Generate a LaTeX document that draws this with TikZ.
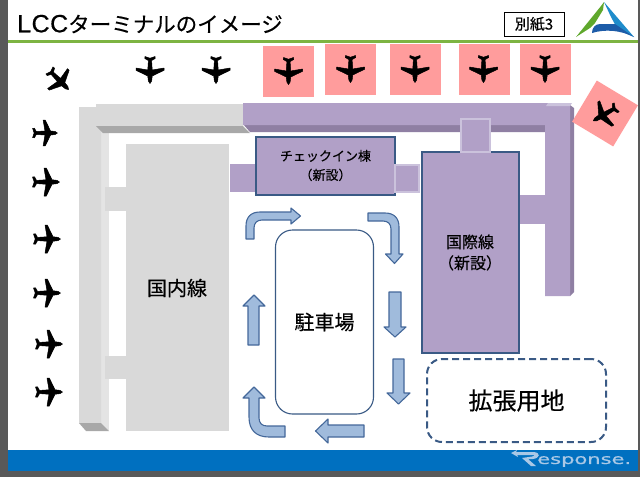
\documentclass[tikz,border=0pt]{standalone}
\usepackage{fontspec}
\setmainfont[FakeBold=.35]{Noto Sans CJK JP}
\newfontfamily\latinf[FakeBold=.5]{Liberation Sans}
\newfontfamily\wmf[FakeBold=.6]{DejaVu Sans}
\definecolor{purp}{HTML}{B1A0C7}
\definecolor{purpdark}{HTML}{8F7FA3}
\definecolor{purplight}{HTML}{CBC2DC}
\definecolor{edgeblue}{HTML}{3A5A85}
\definecolor{gr}{HTML}{D9D9D9}
\definecolor{grlight}{HTML}{E4E4E4}
\definecolor{grdark}{HTML}{A8A8A8}
\definecolor{pinkbox}{HTML}{FF9C9C}
\definecolor{arrowfill}{HTML}{A0BBDC}
\definecolor{arrowedge}{HTML}{44689A}
\definecolor{frame}{HTML}{595959}
\definecolor{bandblue}{HTML}{0070C0}
\definecolor{greenline}{HTML}{7DB442}
\definecolor{logogreen}{HTML}{5FA82C}
\definecolor{logoteal}{HTML}{1F8CCB}
\definecolor{logoblue}{HTML}{1D5CA8}
\definecolor{wmcol}{HTML}{A9C8E6}
\tikzset{
  x=1pt,y=-1pt,
  flowarrow/.style={fill=arrowfill,draw=arrowedge,line width=1.1pt,line join=round},
  labelbox/.style={draw=edgeblue,line width=2pt,fill=purp,inner sep=0pt,align=center,anchor=north west},
  pinksq/.style={fill=pinkbox,draw=none,minimum width=51pt,minimum height=51pt,inner sep=0pt},
  plane/.pic={
    \fill[black,line join=round,draw=black,line width=.5pt]
      (0,13.5) .. controls (1.6,12.5) and (2.1,10) .. (2.1,7)
      -- (2.2,6) -- (14,0.3) -- (14,-2) -- (2.2,0)
      -- (1.6,-9.5) -- (5.2,-11.5) -- (5,-13.5) -- (0,-11.8) -- (-5,-13.5) -- (-5.2,-11.5) -- (-1.6,-9.5)
      -- (-2.2,0) -- (-14,-2) -- (-14,0.3) -- (-2.2,6) -- (-2.1,7)
      .. controls (-2.1,10) and (-1.6,12.5) .. (0,13.5) -- cycle;
  }
}
\begin{document}
\begin{tikzpicture}
\useasboundingbox (0,0) rectangle (640,483);
\fill[white] (0,0) rectangle (640,483);
% frame
\fill[frame] (0,0) rectangle (7.5,477);
\fill[frame] (638,0) rectangle (640,477);
\fill[frame] (0,471) rectangle (640,477);
\fill[bandblue] (7.5,449.5) rectangle (638,471);
\fill[greenline] (7.5,40) rectangle (638,43.3);
% title
\node[anchor=west,inner sep=0pt,font=\fontsize{21.5}{24}\selectfont] (title) at (17,24) {{\latinf\fontsize{25}{24}\selectfont\addfontfeature{LetterSpace=2}LCC}ターミナルのイメージ};
\node[draw=black,line width=.8pt,minimum width=60pt,minimum height=24pt,inner sep=0pt,font=\fontsize{15}{16}\selectfont] (sheet) at (534,24) {別紙3};
% logo
\fill[logogreen] (576,37) -- (601,6) -- (604,2) -- (603,10) -- (595,23) -- (590,28) -- cycle;
\fill[logoteal] (604,2) -- (634,37) -- (618,30) -- (611,17) -- cycle;
\fill[logoblue] (592,33) .. controls (592,28) and (595,24) .. (600,24) -- (615,24) -- (634,37) .. controls (620,30) and (605,29) .. (592,33) -- cycle;
% gray structures
\fill[grlight] (101,126) rectangle (109,431);
\fill[gr] (79,107) -- (96,107) -- (96,104) -- (243,104) -- (243,126) -- (101,126) -- (101,423) -- (79,423) -- cycle;
\fill[grdark] (96,126) -- (243,126) -- (250,133) -- (103,133) -- cycle;
\fill[grdark] (79,423) -- (101,423) -- (109,431) -- (86,431) -- cycle;
\fill[gr] (105,187) rectangle (126,211);
\fill[gr] (105,356) rectangle (126,379);
\node[fill=gr,minimum width=103pt,minimum height=287pt,inner sep=0pt,anchor=north west] (domestic) at (126,144) {};
\node[font=\fontsize{20}{22}\selectfont,inner sep=0pt] (domlabel) at (177,288) {国内線};
% purple structures
\fill[purpdark] (243,124) -- (250,132) -- (545,132) -- (545,124) -- cycle;
\fill[purpdark] (570,105) -- (574,108) -- (574,292) -- (570,296) -- cycle;
\fill[purp] (243,103) -- (570,103) -- (570,296) -- (545,296) -- (545,125) -- (243,125) -- cycle;
\fill[purplight] (546,106) -- (548,103) -- (572,103) -- (570,106) -- cycle;
\fill[purp] (230,164) rectangle (256,192);
\fill[purp] (517,195) rectangle (545,224);
\node[labelbox,minimum width=139pt,minimum height=58pt,font=\fontsize{13}{19}\selectfont] (checkin) at (255,135.5) {チェックイン棟\\（新設）};
\node[labelbox,minimum width=97pt,minimum height=201pt] (intl) at (421,151) {};
\node[inner sep=0pt,align=center,font=\fontsize{16}{21}\selectfont] (intllabel) at (470,252.5) {国際線\\（新設）};
\node[fill=purp,draw=purplight,line width=2pt,minimum width=29pt,minimum height=33pt,inner sep=0pt] (linkA) at (475,135) {};
\node[fill=purp,draw=purplight,line width=2pt,minimum width=24pt,minimum height=27pt,inner sep=0pt] (linkB) at (407,178.5) {};
% parking and expansion
\node[draw=edgeblue,line width=1.1pt,rounded corners=17pt,minimum width=98pt,minimum height=184pt,inner sep=0pt,font=\fontsize{20}{22}\selectfont] (parking) at (324.5,322) {駐車場};
\node[draw=edgeblue,line width=2pt,dash pattern=on 7pt off 4pt,rounded corners=15pt,minimum width=179pt,minimum height=83pt,inner sep=0pt,font=\fontsize{24}{26}\selectfont] (expand) at (516.5,400.5) {拡張用地};
% flow arrows
\draw[flowarrow] (246,239) -- (246,226) .. controls (246,217) and (251,212) .. (260,212) -- (291,212) -- (291,208) -- (300.5,216) -- (291,224) -- (291,220) -- (262,220) .. controls (257,220) and (254,223) .. (254,228) -- (254,239) -- cycle;
\draw[flowarrow] (368,213) -- (385,213) .. controls (394,213) and (399,218) .. (399,227) -- (399,254) -- (403,254) -- (394.5,263.5) -- (385.5,254) -- (391,254) -- (391,229) .. controls (391,224) and (388,221) .. (383,221) -- (368,221) -- cycle;
\draw[flowarrow] (389,292) -- (401,292) -- (401,327) -- (406,327) -- (395,337) -- (384,327) -- (389,327) -- cycle;
\draw[flowarrow] (393,359) -- (404,359) -- (404,393) -- (410,393) -- (398.5,404) -- (387,393) -- (393,393) -- cycle;
\draw[flowarrow] (364,425) -- (364,437) -- (328,437) -- (328,443) -- (315.5,431) -- (328,419) -- (328,425) -- cycle;
\draw[flowarrow] (285,426) -- (267,426) .. controls (262,426) and (259,423) .. (259,418) -- (259,398) -- (265,398) -- (254,387) -- (243,398) -- (249,398) -- (249,417) .. controls (249,430) and (256,437) .. (269,437) -- (285,437) -- cycle;
\draw[flowarrow] (248,345) -- (259,345) -- (259,306) -- (265,306) -- (254,295) -- (243,306) -- (248,306) -- cycle;
% stands
\node[pinksq] (s1) at (288.5,71) {};
\node[pinksq] (s2) at (350.5,69) {};
\node[pinksq] (s3) at (415,69) {};
\node[pinksq] (s4) at (484,69) {};
\node[pinksq] (s5) at (545,69) {};
\node[pinksq,minimum width=48pt,minimum height=48pt,rotate=-31] (s6) at (605,113.5) {};
% planes
\pic at (150,70) {plane};
\pic at (216,70) {plane};
\pic at (288.5,71) {plane};
\pic at (350.5,69) {plane};
\pic at (415,69) {plane};
\pic at (483.5,69) {plane};
\pic at (545,69) {plane};
\pic[rotate=-60] at (605,114) {plane};
\pic[rotate=45] at (59,80) {plane};
\pic[rotate=90,scale=.92] at (45,133) {plane};
\pic[rotate=90] at (46,182) {plane};
\pic[rotate=90] at (47,239) {plane};
\pic[rotate=90] at (47,293) {plane};
\pic[rotate=90] at (49,344) {plane};
\pic[rotate=90] at (49,392) {plane};
% watermark
\fill[wmcol] (511,453) -- (517,450) -- (516,452) -- (534,452) .. controls (541,453) and (540,458) .. (533,459) -- (528,459) -- (536,466) -- (531,466) -- (522,458) -- (532,456.5) .. controls (535,456) and (535,455) .. (532,455) -- (517,455) -- (518,457) -- cycle;
\node[anchor=west,inner sep=0pt,text=wmcol,xscale=1.5,font=\wmf\fontsize{14}{14}\selectfont] (wm) at (537,461.5) {esponse.};
\end{tikzpicture}
\end{document}
